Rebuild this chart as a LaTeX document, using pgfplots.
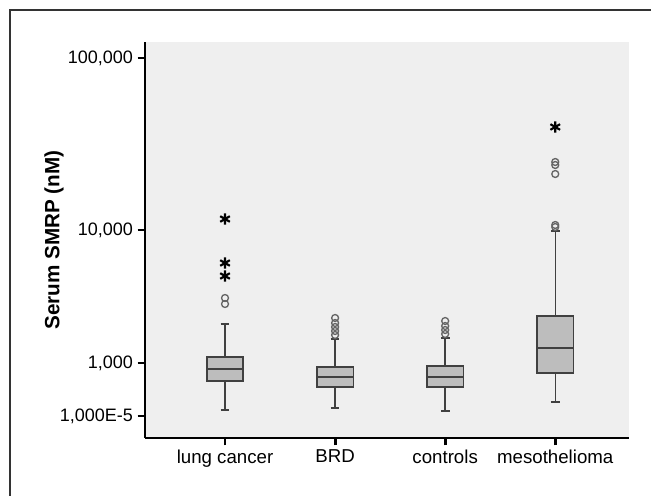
\documentclass[border=0pt]{standalone}
\usepackage{pgfplots}
\pgfplotsset{compat=1.18}
\usepackage{fontspec}
\setmainfont{Liberation Sans}
\definecolor{bg}{HTML}{EFEFEF}
\definecolor{boxfill}{HTML}{BDBDBD}
\definecolor{boxedge}{HTML}{404040}
\definecolor{outl}{HTML}{666666}
\begin{document}
\begin{tikzpicture}
\useasboundingbox (-108.75pt,-43.5pt) rectangle (379.5pt,328.5pt);
\fill[white] (-108.75pt,-43.5pt) rectangle (379.5pt,328.5pt);
\draw[line width=0.9pt, black!80] (-101.25pt,-43.5pt) -- (-101.25pt,321pt) -- (379.5pt,321pt);
\begin{axis}[
  at={(0pt,0pt)}, anchor=south west,
  scale only axis, width=363pt, height=297pt,
  xmin=-0.727, xmax=3.67, ymin=0, ymax=396,
  axis x line=bottom, axis y line=left,
  axis line style={line width=2.2pt,-},
  axis background/.style={fill=bg},
  xtick={0,1,2,3},
  xticklabels={lung cancer,BRD,controls,mesothelioma},
  ytick={22,75,208,380},
  yticklabels={{1,000E-5},{1,000},{10,000},{100,000}},
  tick style={line width=2.2pt, black},
  major tick length=5.5pt, tick align=outside,
  yticklabel style={font=\fontsize{13.5}{16}\selectfont},
  xticklabel style={font=\fontsize{14}{16}\selectfont},
  ylabel={Serum SMRP (nM)},
  ylabel style={font=\bfseries\fontsize{15.5}{18}\selectfont, at={(axis description cs:-0.188,0.5)}, anchor=center},
  unbounded coords=jump,
]
% whiskers (vertical stems, segments separated by nan)
\addplot[boxedge, line width=1.1pt] coordinates {
 (0,28) (0,57) (nan,nan) (0,81) (0,114) (nan,nan)
 (1,30) (1,51) (nan,nan) (1,71) (1,99) (nan,nan)
 (2,27) (2,51) (nan,nan) (2,72) (2,100) (nan,nan)
 (3,36) (3,65) (nan,nan) (3,122) (3,207)};
% whisker caps
\addplot[boxedge, line width=1.1pt] coordinates {
 (-0.04,28) (0.04,28) (nan,nan) (-0.04,114) (0.04,114) (nan,nan)
 (0.96,30) (1.04,30) (nan,nan) (0.96,99) (1.04,99) (nan,nan)
 (1.96,27) (2.04,27) (nan,nan) (1.96,100) (2.04,100) (nan,nan)
 (2.96,36) (3.04,36) (nan,nan) (2.96,207) (3.04,207)};
% boxes (lower quartile to upper quartile)
\addplot[draw=boxedge, fill=boxfill, line width=1.1pt] coordinates {(-0.165,57) (0.165,57) (0.165,81) (-0.165,81)} -- cycle;
\addplot[draw=boxedge, fill=boxfill, line width=1.1pt] coordinates {(0.835,51) (1.165,51) (1.165,71) (0.835,71)} -- cycle;
\addplot[draw=boxedge, fill=boxfill, line width=1.1pt] coordinates {(1.835,51) (2.165,51) (2.165,72) (1.835,72)} -- cycle;
\addplot[draw=boxedge, fill=boxfill, line width=1.1pt] coordinates {(2.835,65) (3.165,65) (3.165,122) (2.835,122)} -- cycle;
% medians
\addplot[boxedge, line width=1.3pt] coordinates {
 (-0.165,69) (0.165,69) (nan,nan) (0.835,61) (1.165,61) (nan,nan)
 (1.835,61) (2.165,61) (nan,nan) (2.835,90) (3.165,90)};
% outliers
\addplot[only marks, mark=o, mark size=2.6pt, mark options={draw=outl, fill=none, line width=1pt}]
  coordinates {(0,134) (0,140) (1,103) (1,107) (1,111) (1,115) (1,120)
               (2,104) (2,108) (2,112) (2,117) (3,211) (3,213) (3,264) (3,273) (3,276)};
% extreme values
\addplot[only marks, mark=asterisk, mark size=4.2pt, mark options={line width=1.6pt, draw=black}]
  coordinates {(0,219) (0,175) (0,162) (3,311)};
\end{axis}
\end{tikzpicture}
\end{document}
